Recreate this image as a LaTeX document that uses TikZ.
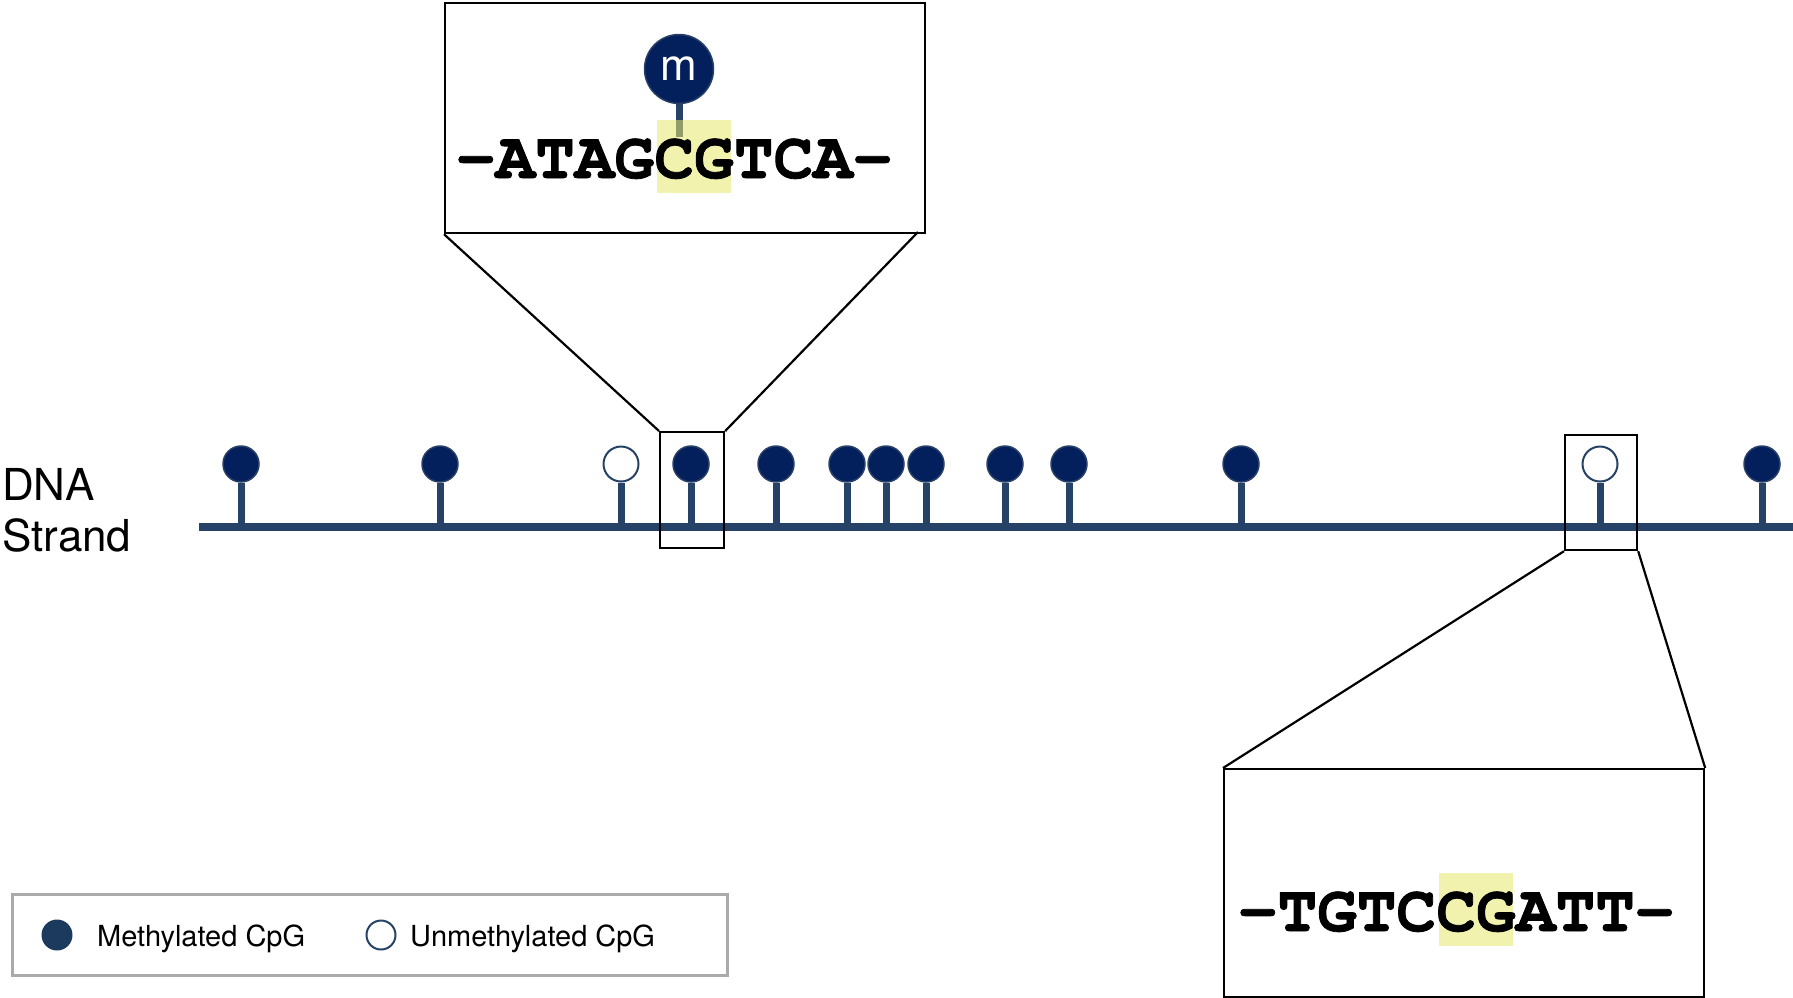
\documentclass[tikz,border=0pt]{standalone}
\usepackage{fontspec}
\setmainfont{TeX Gyre Heros}
\newfontfamily\seqfont{texgyrecursor-bold.otf}[FakeBold=1.2]

\definecolor{strandblue}{RGB}{38,66,102}
\definecolor{methnavy}{RGB}{3,32,92}
\definecolor{methedge}{RGB}{40,64,102}
\definecolor{legendnavy}{RGB}{28,58,94}
\definecolor{legendgray}{RGB}{170,170,170}
\definecolor{cgyellow}{RGB}{232,232,110}

\begin{document}
\begin{tikzpicture}[x=1pt,y=-1pt,
  strand/.style={draw=strandblue, line width=7.5pt},
  stem/.style={draw=strandblue, line width=7pt},
  meth/.style={circle, fill=methnavy, draw=methedge, line width=1.5pt, minimum size=36pt, inner sep=0pt},
  unmeth/.style={circle, fill=white, draw=strandblue, line width=2pt, minimum size=35pt, inner sep=0pt},
  zoomframe/.style={draw=black, line width=2.2pt, inner sep=0pt, anchor=north west},
  zoomray/.style={draw=black, line width=2.2pt},
  seq/.style={font=\seqfont\fontsize{66}{66}\selectfont, inner sep=0pt, text height=58pt, text depth=15pt},
  cgmark/.style={fill=cgyellow, fill opacity=0.55, text opacity=1, inner xsep=-2.5pt},
  strandlabel/.style={font=\fontsize{44}{44}\selectfont, inner sep=0pt, anchor=base west},
  keytext/.style={font=\fontsize{29}{29}\selectfont, inner sep=0pt, anchor=base west}
]
\useasboundingbox (0,0) rectangle (1793,997);

% strand label
\node[strandlabel] (dna) at (2,500) {DNA};
\node[strandlabel] (strandword) at (2,551) {Strand};

% the strand and its CpG sites
\coordinate (sL) at (199,527);
\coordinate (sR) at (1793,527);
\draw[strand] (sL) -- (sR);
\foreach \x/\k/\s in {241/1/meth, 440/2/meth, 621/3/unmeth, 691/4/meth,
                      776/5/meth, 847/6/meth, 886/7/meth, 926/8/meth,
                      1005/9/meth, 1069/10/meth, 1241/11/meth,
                      1600/12/unmeth, 1762/13/meth} {
  \coordinate (b\k) at (\x,527);
  \node[\s] (c\k) at (\x,464) {};
  \draw[stem] (b\k) -- (c\k.south);
}

% zoom frames on the strand
\node[zoomframe, minimum width=64pt, minimum height=116pt] (z1) at (659,431) {};
\node[zoomframe, minimum width=72pt, minimum height=115pt] (z2) at (1564,434) {};

% methylated close-up
\node[zoomframe, minimum width=480pt, minimum height=230pt] (topbox) at (444,2) {};
\coordinate (topray) at (918,232);
\draw[zoomray] (topbox.south west) -- (z1.north west);
\draw[zoomray] (topray) -- (z1.north east);

\node[meth, minimum size=69pt] (mtop) at (679,69) {\fontsize{44}{44}\selectfont\color{white}m};
\coordinate (mfoot) at (679,137);
\draw[stem] (mtop.south) -- (mfoot);

\node[seq, cgmark, anchor=base] (cg1) at (694,178) {CG};
\node[seq, anchor=base east] (pre1) at ([xshift=-2.5pt]cg1.base west) {-ATAG};
\node[seq, anchor=base west] (post1) at ([xshift=2.5pt]cg1.base east) {TCA-};

% unmethylated close-up
\node[zoomframe, minimum width=480pt, minimum height=228pt] (botbox) at (1223,768) {};
\draw[zoomray] (z2.south west) -- (botbox.north west);
\draw[zoomray] (z2.south east) -- (botbox.north east);

\node[seq, cgmark, anchor=base] (cg2) at (1476,931) {CG};
\node[seq, anchor=base east] (pre2) at ([xshift=-2.5pt]cg2.base west) {-TGTC};
\node[seq, anchor=base west] (post2) at ([xshift=2.5pt]cg2.base east) {ATT-};

% legend
\node[draw=legendgray, line width=3pt, minimum width=715pt, minimum height=81pt,
      inner sep=0pt, anchor=north west] (legend) at (11,893) {};
\node[circle, fill=legendnavy, minimum size=31pt, inner sep=0pt] (keym) at (57,935) {};
\node[keytext] (keymtext) at (97,946) {Methylated CpG};
\node[circle, fill=white, draw=strandblue, line width=2pt, minimum size=29pt, inner sep=0pt] (keyu) at (381,935) {};
\node[keytext] (keyutext) at (410,946) {Unmethylated CpG};
\end{tikzpicture}
\end{document}
